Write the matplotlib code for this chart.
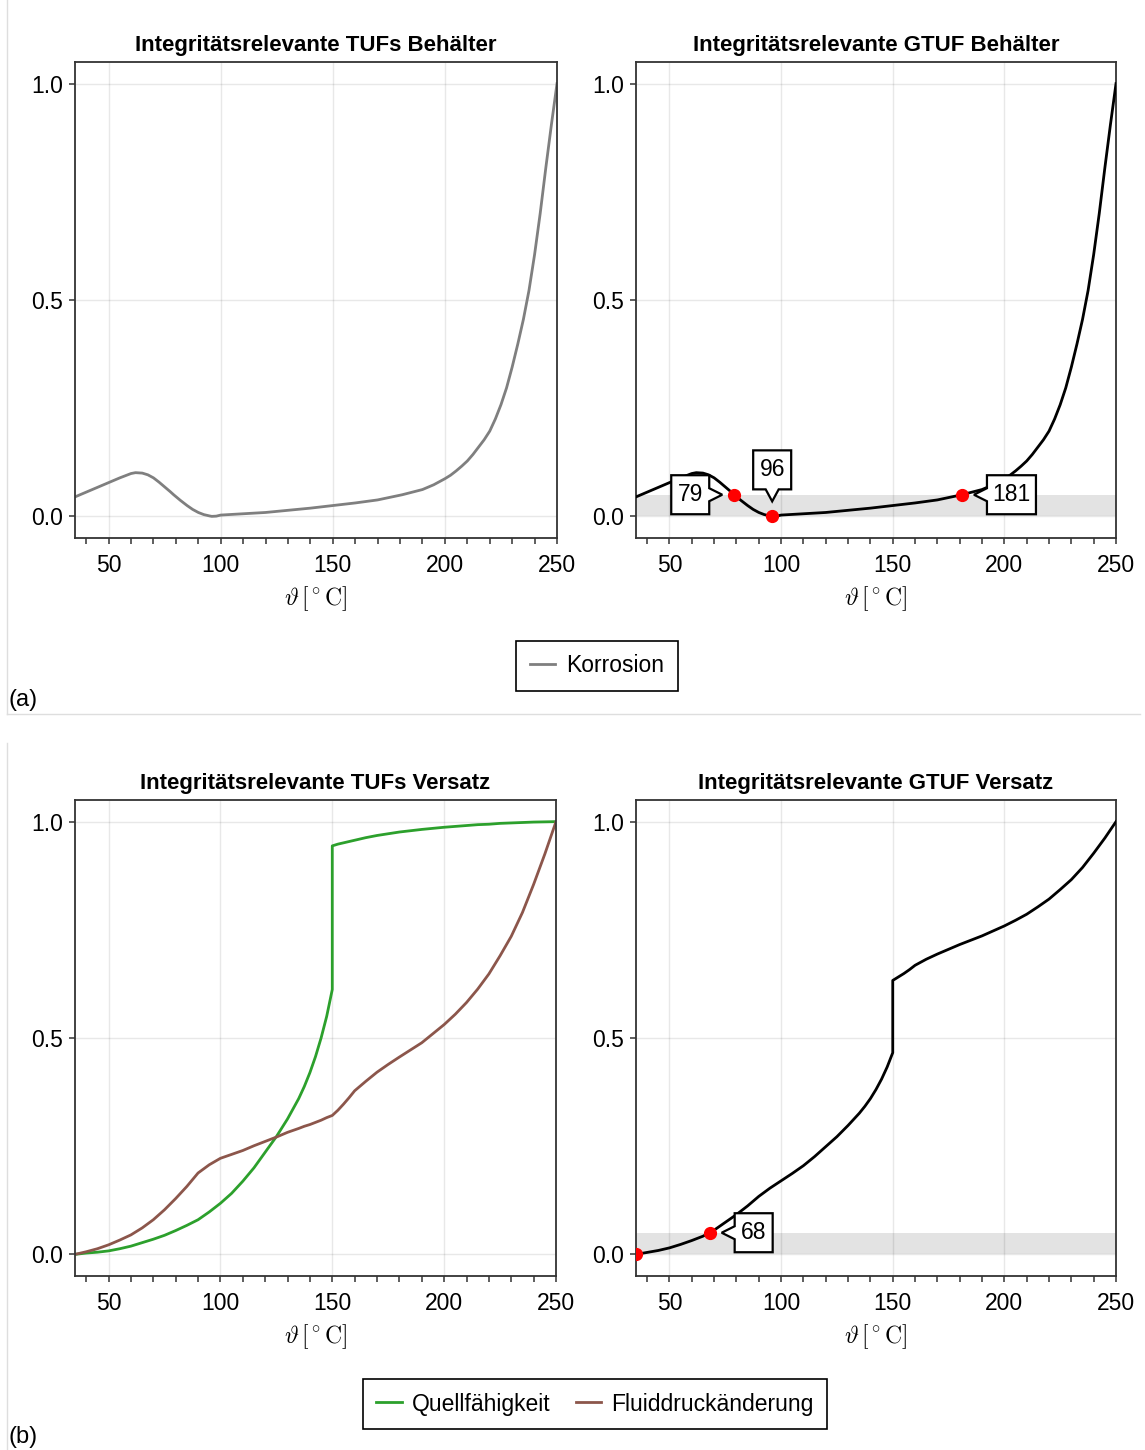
import matplotlib
matplotlib.use('Agg')
import matplotlib.pyplot as plt
from matplotlib.patches import Polygon
from matplotlib.transforms import Affine2D, ScaledTranslation
from matplotlib.lines import Line2D
import numpy as np

plt.rcParams['font.family'] = ['Liberation Sans', 'DejaVu Sans']
plt.rcParams['mathtext.fontset'] = 'cm'

# --- (a) Behälter -----------------------------------------------------------
temp_behaelter = [35, 40, 45, 50, 55, 58, 60, 62, 65, 67.5,
                  70, 72.5, 75, 77.5, 79, 82, 85, 87.5, 90, 92.5,
                  95, 96, 98, 100, 110, 120, 130, 140, 150, 160,
                  170, 181, 190, 195, 200, 202.5, 205, 207.5, 210, 212.5,
                  215, 217.5, 220, 222.5, 225, 227.5, 230, 232.5, 235, 237.5,
                  240, 242.5, 245, 247.5, 250]
korrosion = [0.045, 0.056, 0.067, 0.078, 0.089, 0.095, 0.099, 0.101, 0.100, 0.096,
             0.089, 0.079, 0.068, 0.057, 0.05, 0.037, 0.025, 0.016, 0.009, 0.004,
             0.001, 0.0, 0.0005, 0.003, 0.006, 0.009, 0.014, 0.019, 0.025, 0.031,
             0.038, 0.05, 0.062, 0.073, 0.087, 0.095, 0.105, 0.116, 0.128, 0.143,
             0.16, 0.177, 0.197, 0.225, 0.258, 0.297, 0.345, 0.398, 0.455, 0.522,
             0.605, 0.70, 0.805, 0.905, 1.0]
# only one TUF -> the GTUF curve has the same values
gtuf_behaelter = [0.045, 0.056, 0.067, 0.078, 0.089, 0.095, 0.099, 0.101, 0.100, 0.096,
                  0.089, 0.079, 0.068, 0.057, 0.05, 0.037, 0.025, 0.016, 0.009, 0.004,
                  0.001, 0.0, 0.0005, 0.003, 0.006, 0.009, 0.014, 0.019, 0.025, 0.031,
                  0.038, 0.05, 0.062, 0.073, 0.087, 0.095, 0.105, 0.116, 0.128, 0.143,
                  0.16, 0.177, 0.197, 0.225, 0.258, 0.297, 0.345, 0.398, 0.455, 0.522,
                  0.605, 0.70, 0.805, 0.905, 1.0]
marks_behaelter_x = [79, 96, 181]
marks_behaelter_y = [0.05, 0.0, 0.05]
marks_behaelter_lbl = ['79', '96', '181']
marks_behaelter_side = ['left', 'top', 'right']

# --- (b) Versatz ------------------------------------------------------------
temp_versatz = [35, 40, 45, 50, 55, 60, 65, 70, 75, 80, 85, 90, 95, 100,
                105, 110, 115, 120, 125, 130, 135, 137.5, 140, 142.5, 145, 147.5, 150,
                150, 152.5, 155, 157.5, 160, 165, 170, 175, 180, 190, 200,
                205, 210, 215, 220, 225, 230, 235, 240, 245, 250]
quellfaehigkeit = [0, 0.003, 0.005, 0.008, 0.013, 0.019, 0.027, 0.035, 0.044, 0.055, 0.067,
                   0.08, 0.098, 0.118,
                   0.141, 0.169, 0.2, 0.236, 0.272, 0.313, 0.36, 0.388, 0.42, 0.457, 0.5,
                   0.55, 0.612,
                   0.944, 0.948, 0.951, 0.954, 0.957, 0.963, 0.968, 0.972, 0.976, 0.982,
                   0.987,
                   0.989, 0.991, 0.993, 0.994, 0.996, 0.997, 0.998, 0.999, 0.9995, 1.0]
fluiddruck = [0, 0.006, 0.013, 0.022, 0.033, 0.045, 0.061, 0.08, 0.103, 0.129, 0.157, 0.188,
              0.207, 0.222,
              0.231, 0.24, 0.251, 0.261, 0.271, 0.282, 0.291, 0.296, 0.3, 0.305, 0.31, 0.316,
              0.321,
              0.321, 0.333, 0.347, 0.362, 0.378, 0.4, 0.421, 0.439, 0.456, 0.489, 0.531,
              0.555, 0.582, 0.613, 0.648, 0.69, 0.735, 0.79, 0.855, 0.925, 1.0]
gtuf_versatz = [0, 0.0045, 0.009, 0.015, 0.023, 0.032, 0.042, 0.056, 0.074, 0.092, 0.112,
                0.134, 0.153, 0.17,
                0.187, 0.205, 0.226, 0.249, 0.272, 0.298, 0.326, 0.342, 0.36, 0.381, 0.405,
                0.433, 0.466,
                0.633, 0.641, 0.649, 0.658, 0.668, 0.682, 0.694, 0.705, 0.716, 0.736, 0.759,
                0.772, 0.786, 0.803, 0.821, 0.843, 0.866, 0.894, 0.927, 0.962, 1.0]
marks_versatz_x = [35, 68]
marks_versatz_y = [0.0, 0.05]
marks_versatz_lbl = [None, '68']
marks_versatz_side = [None, 'right']

threshold = 0.05

W, H = 1145, 1450
fig = plt.figure(figsize=(W / 100, H / 100), dpi=100)


def add_ax(x0, y0, x1, y1):
    # pixel box -> figure fraction
    return fig.add_axes([x0 / W, 1 - y1 / H, (x1 - x0) / W, (y1 - y0) / H])


def setup_axis(ax, title):
    ax.set_xlim(35, 250)
    ax.set_ylim(-0.05, 1.05)
    ax.set_xticks([50, 100, 150, 200, 250])
    ax.set_xticks(np.arange(40, 251, 10), minor=True)
    ax.set_yticks([0, 0.5, 1.0])
    ax.set_yticklabels(['0.0', '0.5', '1.0'])
    ax.tick_params(which='both', direction='out', length=4.5, width=1.1, color='#333333',
                   labelsize=16.5)
    ax.tick_params(axis='x', which='both', pad=7)
    ax.tick_params(axis='y', pad=4)
    ax.grid(True, which='major', color='black', alpha=0.09, linewidth=1)
    ax.set_axisbelow(True)
    for s in ax.spines.values():
        s.set_color('#333333')
        s.set_linewidth(1.3)
    ax.set_title(title, fontsize=16, fontweight='bold', pad=8)
    ax.set_xlabel(r'$\vartheta\,[^\circ\mathrm{C}]$', fontsize=17, labelpad=5)


def callout(ax, x, y, label, side):
    trans = Affine2D().scale(fig.dpi / 100.0) + ScaledTranslation(x, y, ax.transData)
    gap, depth, notch, h = 12, 13, 6.5, 39
    w = 16 + 11 * len(label)
    if side == 'left':
        e = -(gap + depth)
        verts = [(e - w, -h / 2), (e, -h / 2), (e, -notch), (-gap, 0), (e, notch),
                 (e, h / 2), (e - w, h / 2)]
        cx, cy = e - w / 2, 0
    elif side == 'right':
        e = gap + depth
        verts = [(e + w, -h / 2), (e, -h / 2), (e, -notch), (gap, 0), (e, notch),
                 (e, h / 2), (e + w, h / 2)]
        cx, cy = e + w / 2, 0
    else:
        e = gap + depth + 2
        verts = [(-w / 2, e), (-notch, e), (0, gap + 3), (notch, e), (w / 2, e),
                 (w / 2, e + h), (-w / 2, e + h)]
        cx, cy = 0, e + h / 2
    ax.add_patch(Polygon(verts, closed=True, transform=trans, facecolor='white',
                         edgecolor='black', linewidth=1.6, zorder=6, clip_on=False))
    ax.text(cx, cy, label, transform=trans, ha='center', va='center', fontsize=16.5,
            zorder=7, clip_on=False)


# panel (a)
ax1 = add_ax(75, 62, 557, 538)
setup_axis(ax1, 'Integritätsrelevante TUFs Behälter')
ax1.plot(temp_behaelter, korrosion, color='#7f7f7f', linewidth=2, label='Korrosion')

ax2 = add_ax(636, 62, 1116, 538)
setup_axis(ax2, 'Integritätsrelevante GTUF Behälter')
ax2.axhspan(0, threshold, color='#e3e3e3', zorder=0.3, linewidth=0)
ax2.plot(temp_behaelter, gtuf_behaelter, color='black', linewidth=2, zorder=3)
ax2.plot(marks_behaelter_x, marks_behaelter_y, 'o', color='red', markersize=8.5, zorder=5)
for mx, my, lbl, side in zip(marks_behaelter_x, marks_behaelter_y, marks_behaelter_lbl,
                             marks_behaelter_side):
    callout(ax2, mx, my, lbl, side)

# panel (b)
ax3 = add_ax(75, 800, 556, 1276)
setup_axis(ax3, 'Integritätsrelevante TUFs Versatz')
ax3.plot(temp_versatz, quellfaehigkeit, color='#2ca02c', linewidth=2, label='Quellfähigkeit')
ax3.plot(temp_versatz, fluiddruck, color='#8c564b', linewidth=2, label='Fluiddruckänderung')

ax4 = add_ax(636, 800, 1116, 1276)
setup_axis(ax4, 'Integritätsrelevante GTUF Versatz')
ax4.axhspan(0, threshold, color='#e3e3e3', zorder=0.3, linewidth=0)
ax4.plot(temp_versatz, gtuf_versatz, color='black', linewidth=2, zorder=3)
ax4.plot(marks_versatz_x, marks_versatz_y, 'o', color='red', markersize=8.5, zorder=5)
for mx, my, lbl, side in zip(marks_versatz_x, marks_versatz_y, marks_versatz_lbl,
                             marks_versatz_side):
    if lbl:
        callout(ax4, mx, my, lbl, side)

# legends
leg_kw = dict(loc='center', fontsize=16.5, frameon=True, fancybox=False, framealpha=1,
              edgecolor='black', handlelength=1.1, handletextpad=0.45, borderpad=0.6,
              columnspacing=1.1)
h1, l1 = ax1.get_legend_handles_labels()
lg1 = fig.legend(h1, l1, bbox_to_anchor=(597 / W, 1 - 666 / H), **leg_kw)
lg1.get_frame().set_linewidth(1.2)
h3, l3 = ax3.get_legend_handles_labels()
lg2 = fig.legend(h3, l3, ncol=2, bbox_to_anchor=(595 / W, 1 - 1404 / H), **leg_kw)
lg2.get_frame().set_linewidth(1.2)

# panel labels and separators
fig.text(8 / W, 1 - 700 / H, '(a)', fontsize=17, ha='left', va='center')
fig.text(8 / W, 1 - 1437 / H, '(b)', fontsize=17, ha='left', va='center')
fig.add_artist(Line2D([7 / W, 7 / W], [1, 1 - 714 / H], color='#dedede', linewidth=1))
fig.add_artist(Line2D([7 / W, 1140 / W], [1 - 714 / H, 1 - 714 / H], color='#dedede',
                      linewidth=1))
fig.add_artist(Line2D([7 / W, 7 / W], [1 - 743 / H, 0], color='#dedede', linewidth=1))

fig.savefig('out.png', dpi=100)
